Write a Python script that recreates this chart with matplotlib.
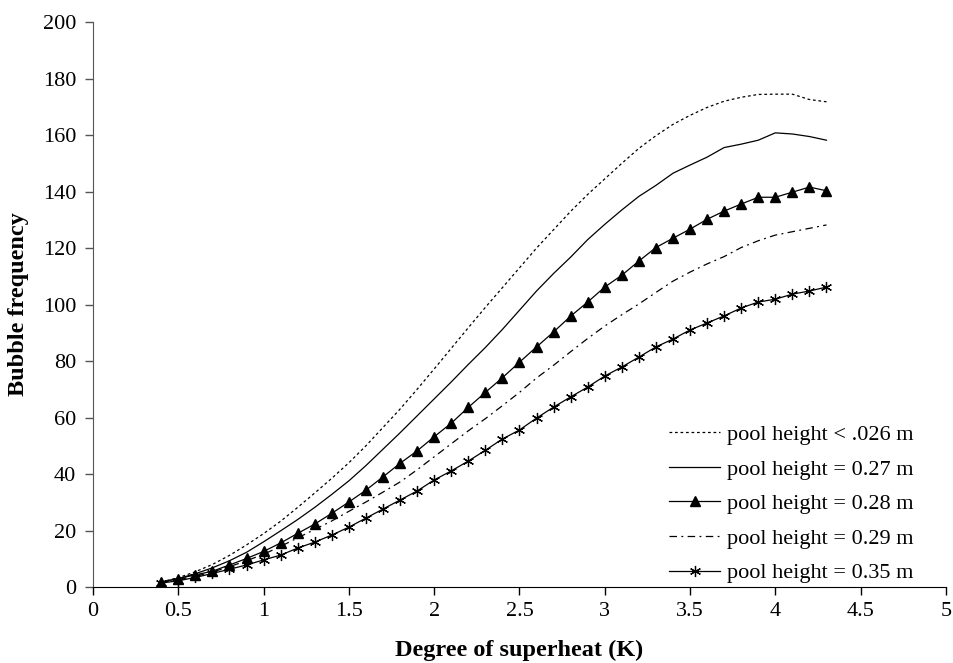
import matplotlib.pyplot as plt
import numpy as np

# Superheat values (K), one point every 0.1 K
superheat = np.round(np.arange(0.4, 4.35, 0.1), 1)

freq_026 = [1.8, 3.3, 5.4, 8.0, 11.2, 14.9, 18.9, 23.3, 28.2, 33.3,
            38.5, 44.0, 50.0, 56.5, 63.0, 70.0, 77.2, 84.5, 91.8, 99.0,
            106.0, 113.0, 120.0, 126.5, 133.0, 139.0, 144.5, 150.0, 155.3, 159.8,
            163.8, 167.0, 169.8, 172.0, 173.4, 174.4, 174.5, 174.5, 172.6, 171.8]
freq_027 = [1.7, 3.0, 4.7, 6.8, 9.3, 12.3, 16.0, 19.9, 23.9, 28.2,
            32.8, 37.6, 43.0, 48.8, 54.6, 60.6, 66.6, 72.6, 78.8, 84.8,
            91.2, 98.0, 104.8, 111.0, 116.8, 123.0, 128.4, 133.5, 138.3, 142.2,
            146.5, 149.4, 152.2, 155.6, 156.8, 158.2, 160.8, 160.4, 159.5, 158.2]
freq_028 = [1.8, 3.0, 4.3, 5.6, 7.8, 10.1, 12.6, 15.6, 19.0, 22.3,
            26.1, 30.1, 34.3, 39.0, 43.8, 48.2, 53.2, 58.0, 63.6, 68.9,
            74.1, 79.6, 85.0, 90.3, 95.9, 100.9, 106.2, 110.4, 115.4, 120.2,
            123.5, 126.7, 130.2, 133.1, 135.6, 138.0, 138.0, 139.8, 141.6, 140.3]
freq_029 = [1.6, 2.6, 3.8, 5.3, 7.2, 9.3, 11.6, 14.4, 17.4, 20.4,
            23.4, 26.8, 30.1, 33.6, 37.2, 41.5, 46.1, 50.7, 55.3, 59.6,
            64.2, 68.9, 74.0, 78.5, 83.3, 88.0, 92.4, 96.4, 100.2, 104.3,
            108.3, 111.5, 114.4, 117.0, 120.2, 122.6, 124.6, 125.8, 127.0, 128.2]
freq_035 = [1.4, 2.2, 3.4, 4.8, 6.3, 7.8, 9.6, 11.3, 13.8, 15.9,
            18.4, 21.2, 24.4, 27.6, 30.8, 34.0, 37.9, 41.1, 44.6, 48.4,
            52.4, 55.6, 59.8, 63.7, 67.3, 70.8, 74.7, 77.9, 81.4, 85.0,
            87.8, 91.0, 93.5, 96.0, 98.8, 100.9, 101.9, 103.7, 104.8, 106.2]

labels = ["pool height < .026 m", "pool height = 0.27 m", "pool height = 0.28 m",
          "pool height = 0.29 m", "pool height = 0.35 m"]

plt.rcParams['font.family'] = ['Liberation Serif', 'DejaVu Serif']

fig = plt.figure(figsize=(9.54, 6.63), dpi=100)
ax = fig.add_axes([0.0975, 0.1146, 0.894, 0.852])

lw = 0.9
ax.plot(superheat, freq_026, color='black', lw=lw, dashes=(2.2, 2.2), label=labels[0])
ax.plot(superheat, freq_027, color='black', lw=lw, label=labels[1])
ax.plot(superheat, freq_028, color='black', lw=lw, marker='^', markersize=6.5, label=labels[2])
ax.plot(superheat, freq_029, color='black', lw=lw, dashes=(6, 3.5, 1.5, 3.5), label=labels[3])
ax.plot(superheat, freq_035, color='black', lw=lw, marker=(6, 2, 0), markersize=8,
        markeredgewidth=0.9, label=labels[4])

ax.set_xlim(0, 5)
ax.set_ylim(0, 200)
ax.set_xticks(np.arange(0, 5.01, 0.5))
ax.set_xticklabels(['0', '0.5', '1', '1.5', '2', '2.5', '3', '3.5', '4', '4.5', '5'])
ax.set_yticks(np.arange(0, 201, 20))

for side in ['top', 'right']:
    ax.spines[side].set_visible(False)
ax.spines['left'].set_color('#555555')
ax.spines['bottom'].set_color('black')
ax.tick_params(axis='both', direction='out', length=6, width=1, labelsize=16)
ax.tick_params(axis='x', pad=5)
ax.tick_params(axis='y', color='#555555', pad=6)

ax.set_xlabel('Degree of superheat (K)', fontsize=17.5, fontweight='bold', labelpad=13)
ax.set_ylabel('Bubble frequency', fontsize=17.5, fontweight='bold', labelpad=10)

ax.legend(loc='upper left', bbox_to_anchor=(0.692, 0.373), bbox_transform=fig.transFigure,
          frameon=False, fontsize=16, handlelength=2.3, handletextpad=0.3,
          labelspacing=0.63, borderaxespad=0)

fig.savefig('out.png', dpi=100)
